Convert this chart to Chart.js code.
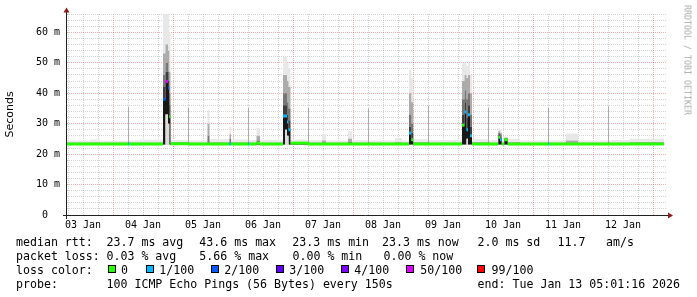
<!DOCTYPE html>
<html><head><meta charset="utf-8">
<script src="https://cdn.jsdelivr.net/npm/chart.js@4.4.1/dist/chart.umd.min.js"></script>
<style>
html,body{margin:0;padding:0;background:#fff;}
#wrap{position:relative;width:697px;height:297px;overflow:hidden;background:#fff;}
#c{position:absolute;left:0;top:0;}
.t{position:absolute;font-family:'DejaVu Sans Mono',monospace;font-size:11.6px;line-height:14px;color:#000;white-space:pre;}
.b{position:absolute;top:265px;width:6px;height:6px;border:1px solid #000;}
#wm{position:absolute;left:0;top:0;transform:translate(692.5px,5px) rotate(90deg);transform-origin:0 0;font-family:'DejaVu Sans Mono',monospace;font-size:8.3px;line-height:10px;color:#aaa;white-space:nowrap;}
</style></head>
<body>
<div id="wrap">
<canvas id="c" width="697" height="297"></canvas>
<div class="t" style="left:16px;top:235px">median rtt:</div>
<div class="t" style="left:106.5px;top:235px">23.7 ms avg</div>
<div class="t" style="left:199.3px;top:235px">43.6 ms max</div>
<div class="t" style="left:292.3px;top:235px">23.3 ms min</div>
<div class="t" style="left:382px;top:235px">23.3 ms now</div>
<div class="t" style="left:477.5px;top:235px">2.0 ms sd</div>
<div class="t" style="left:557.5px;top:235px">11.7</div>
<div class="t" style="left:606px;top:235px">am/s</div>
<div class="t" style="left:16px;top:249px">packet loss:</div>
<div class="t" style="left:106.5px;top:249px">0.03 % avg</div>
<div class="t" style="left:199.3px;top:249px">5.66 % max</div>
<div class="t" style="left:292.5px;top:249px">0.00 % min</div>
<div class="t" style="left:383.5px;top:249px">0.00 % now</div>
<div class="t" style="left:16px;top:263px">loss color:</div>
<div class="b" style="left:108px;background:#26ff00"></div><div class="t" style="left:121px;top:263px">0</div>
<div class="b" style="left:146px;background:#00b8ff"></div><div class="t" style="left:159.3px;top:263px">1/100</div>
<div class="b" style="left:211px;background:#0059ff"></div><div class="t" style="left:224.3px;top:263px">2/100</div>
<div class="b" style="left:276px;background:#5e00ff"></div><div class="t" style="left:289.3px;top:263px">3/100</div>
<div class="b" style="left:341px;background:#7e00ff"></div><div class="t" style="left:354.3px;top:263px">4/100</div>
<div class="b" style="left:406px;background:#dd00ff"></div><div class="t" style="left:420.3px;top:263px">50/100</div>
<div class="b" style="left:477px;background:#ff0000"></div><div class="t" style="left:491.6px;top:263px">99/100</div>
<div class="t" style="left:16px;top:277px">probe:</div>
<div class="t" style="left:106.5px;top:277px">100 ICMP Echo Pings (56 Bytes) every 150s</div>
<div class="t" style="left:477.6px;top:277px">end: Tue Jan 13 05:01:16 2026</div>
<div id="wm">RRDTOOL / TOBI OETIKER</div>
</div>
<script>
// hours since 03 Jan 00:00
const hours = [5.6, 14.8, 18.8, 30.0, 30.4, 34.8, 44.0, 45.0, 46.0, 46.5, 47.0, 54.0, 54.4, 61.8, 62.6, 70.6, 71.2, 78.0, 78.4, 81.4, 82.8, 92.0, 92.8, 93.6, 94.2, 95.0, 102.0, 102.4, 107.6, 109.2, 118.0, 119.6, 126.0, 126.4, 136.8, 139.6, 142.4, 143.3, 144.1, 150.0, 150.4, 163.6, 164.6, 165.4, 166.0, 166.8, 167.6, 174.0, 174.4, 178.1, 178.8, 179.5, 180.5, 181.9, 186.8, 198.0, 198.4, 205.2, 210.0, 222.0, 222.4, 230.8, 244.4];
const smokeMin = [23.0, 23.0, 23.0, 23.0, 23.0, 23.0, 23.0, 23.0, 23.0, 23.0, 23.0, 23.0, 23.0, 23.0, 23.0, 23.0, 23.0, 23.0, 23.0, 23.0, 23.0, 23.0, 23.0, 23.0, 23.0, 23.0, 23.0, 23.0, 23.0, 23.0, 23.0, 23.0, 23.0, 23.0, 23.0, 23.0, 23.0, 23.0, 23.0, 23.0, 23.0, 23.0, 23.0, 23.0, 23.0, 23.0, 23.0, 23.0, 23.0, 23.0, 23.0, 23.0, 23.0, 23.0, 23.0, 23.0, 23.0, 23.0, 23.0, 23.0, 23.0, 23.0, 23.0];
const smokeLow = [23.1, 23.1, 23.1, 23.1, 23.1, 23.1, 23.1, 33.0, 30.0, 23.1, 23.1, 23.1, 23.1, 23.1, 23.1, 23.1, 23.1, 23.1, 23.1, 23.1, 23.1, 23.1, 28.0, 26.0, 23.1, 23.1, 23.1, 23.1, 23.1, 23.1, 23.1, 23.1, 23.1, 23.1, 23.1, 23.1, 23.1, 23.1, 23.1, 23.1, 23.1, 23.1, 23.1, 25.0, 23.1, 23.1, 23.1, 23.1, 23.1, 23.1, 23.1, 23.1, 23.1, 23.1, 23.1, 23.1, 23.1, 23.1, 23.1, 23.1, 23.1, 23.1, 23.1];
const medianRtt = [23.3, 23.3, 23.3, 23.3, 23.3, 23.3, 38.0, 43.8, 41.7, 32.3, 23.4, 23.3, 23.3, 23.3, 23.3, 23.3, 23.3, 23.3, 23.3, 23.6, 23.3, 32.5, 32.5, 30.5, 28.0, 23.6, 23.3, 23.3, 23.3, 23.3, 23.3, 23.3, 23.3, 23.3, 23.3, 23.3, 26.9, 24.7, 23.3, 23.3, 23.3, 29.5, 33.8, 28.0, 32.9, 26.0, 23.3, 23.3, 23.3, 25.5, 24.7, 23.3, 24.7, 23.3, 23.3, 23.3, 23.3, 23.3, 23.3, 23.3, 23.3, 23.3, 23.3];
const smokeP60 = [23.5, 23.5, 23.5, 23.5, 23.5, 23.5, 42, 47, 44, 36, 23.6, 23.5, 23.5, 23.6, 23.5, 23.6, 23.5, 23.5, 23.5, 23.8, 23.5, 36, 36, 33, 31, 23.8, 23.5, 23.5, 23.5, 23.5, 23.5, 23.5, 23.5, 23.5, 23.5, 23.5, 29, 27, 23.5, 23.5, 23.5, 33, 37, 32, 36, 29, 23.5, 23.5, 23.5, 26.5, 25.5, 23.5, 25.0, 23.5, 23.5, 23.5, 23.5, 23.5, 23.5, 23.5, 23.5, 23.5, 23.5];
const smokeP75 = [23.65, 23.65, 23.65, 24.0, 23.65, 23.65, 46, 50, 47, 40, 23.8, 24.0, 23.65, 26.0, 23.7, 25.0, 23.65, 24.0, 23.65, 24.5, 23.65, 40, 40, 37, 35, 24.0, 24.0, 23.65, 23.8, 23.65, 24.0, 23.65, 24.0, 23.65, 23.7, 23.65, 33, 30, 23.8, 24.0, 23.65, 38, 41, 38, 40, 33, 23.8, 24.0, 23.65, 27.0, 26.5, 23.65, 25.3, 23.8, 23.65, 24.0, 23.65, 23.8, 23.65, 24.0, 23.65, 23.7, 23.65];
const smokeP90 = [23.8, 23.9, 23.8, 35.5, 23.8, 23.8, 53, 56, 54, 47, 23.9, 35.2, 23.8, 30.0, 23.9, 26.5, 23.9, 35.2, 23.8, 26.0, 23.8, 46, 46, 44, 42, 23.9, 35.2, 23.8, 24.5, 23.8, 25.0, 23.8, 35.0, 23.8, 24.0, 23.8, 40, 37, 23.9, 35.7, 23.8, 44, 46, 45, 46, 40, 23.9, 35.2, 23.8, 27.5, 27.0, 23.8, 25.4, 23.9, 23.8, 35.2, 23.8, 24.5, 23.8, 35.7, 23.8, 24.0, 23.8];
const smokeMax = [24.5, 24.8, 24.4, 36.6, 24.5, 24.7, 66, 66, 66, 60, 24.6, 36.2, 24.5, 34.5, 24.9, 29.0, 24.8, 36.2, 24.6, 28.6, 24.7, 52, 52, 50, 48, 24.8, 36.2, 24.6, 26.5, 24.5, 27.5, 24.6, 36.0, 24.5, 25.3, 24.5, 47.7, 45, 24.9, 36.7, 24.6, 50, 50, 49, 50, 46, 24.9, 36.2, 24.6, 28.5, 28.0, 24.5, 25.8, 25.0, 24.5, 36.2, 24.5, 26.8, 24.5, 36.7, 24.6, 25.0, 24.5];
const lossPct = [0, 0, 0, 1, 0, 0, 2, 6, 2, 0, 0, 0, 0, 0, 0, 1, 0, 1, 0, 0, 0, 1, 1, 1, 1, 0, 0, 0, 0, 0, 0, 0, 0, 0, 0, 0, 1, 0, 0, 0, 0, 0, 1, 1, 1, 1, 0, 0, 0, 0, 1, 0, 0, 0, 0, 1, 0, 0, 0, 0, 0, 0, 0];
const dayLabels = ['03 Jan', '04 Jan', '05 Jan', '06 Jan', '07 Jan', '08 Jan', '09 Jan', '10 Jan', '11 Jan', '12 Jan'];

function lossColor(p) {
  if (p <= 0) return '#26ff00';
  if (p <= 1) return '#00b8ff';
  if (p <= 2) return '#0059ff';
  if (p <= 3) return '#5e00ff';
  if (p <= 4) return '#7e00ff';
  if (p <= 50) return '#dd00ff';
  return '#ff0000';
}
const pts = arr => hours.map((h, i) => ({x: h, y: arr[i]}));
const medPts = [];
for (let i = 0; i < hours.length - 1; i++) {
  medPts.push({x: hours[i], y: medianRtt[i]});
  medPts.push({x: hours[i + 1], y: medianRtt[i]});
}
const smoke = (label, arr, color, fill) => ({
  label, data: pts(arr), stepped: true, fill: fill, backgroundColor: color,
  borderColor: 'rgba(0,0,0,0)', borderWidth: 0, pointRadius: 0, order: 5
});
const MINOR = 'rgba(150,150,150,0.42)';
const MAJOR = 'rgba(235,90,90,0.5)';

const axisDeco = {
  id: 'axisDeco',
  afterDraw(chart) {
    const {ctx, chartArea: a} = chart;
    ctx.save();
    ctx.strokeStyle = '#222';
    ctx.lineWidth = 1;
    ctx.beginPath();
    ctx.moveTo(a.left - 0.5, a.bottom + 4);
    ctx.lineTo(a.left - 0.5, a.top - 2);
    ctx.moveTo(a.left - 4, a.bottom + 0.5);
    ctx.lineTo(a.right + 1, a.bottom + 0.5);
    ctx.stroke();
    ctx.fillStyle = '#8b1a1a';
    ctx.beginPath();
    ctx.moveTo(a.left - 3.5, a.top - 1.5);
    ctx.lineTo(a.left + 2.5, a.top - 1.5);
    ctx.lineTo(a.left - 0.5, a.top - 6.5);
    ctx.closePath();
    ctx.fill();
    ctx.beginPath();
    ctx.moveTo(a.right + 1, a.bottom - 2.5);
    ctx.lineTo(a.right + 1, a.bottom + 3.5);
    ctx.lineTo(a.right + 6, a.bottom + 0.5);
    ctx.closePath();
    ctx.fill();
    ctx.restore();
  }
};

new Chart(document.getElementById('c'), {
  type: 'line',
  data: {
    datasets: [
      smoke('min', smokeMin, 'rgba(0,0,0,0)', false),
      smoke('low', smokeLow, '#dcdcdc', '-1'),
      smoke('med', medianRtt, '#181818', '-1'),
      smoke('p60', smokeP60, '#3e3e3e', '-1'),
      smoke('p75', smokeP75, '#767676', '-1'),
      smoke('p90', smokeP90, '#acacac', '-1'),
      smoke('max', smokeMax, '#e8e8e8', '-1'),
      {
        label: 'median rtt', data: medPts, fill: false, borderWidth: 3, pointRadius: 0,
        borderColor: '#26ff00', borderCapStyle: 'butt', borderJoinStyle: 'miter', order: -1,
        segment: {
          borderColor: c => Math.abs(c.p0.x - c.p1.x) < 0.01 ? 'rgba(0,0,0,0)' : lossColor(lossPct[Math.floor(c.p0DataIndex / 2)])
        }
      }
    ]
  },
  options: {
    responsive: false, animation: false, devicePixelRatio: 1,
    layout: {padding: {left: 0, top: 14, right: 30, bottom: 0}},
    plugins: {legend: {display: false}, tooltip: {enabled: false}},
    elements: {line: {tension: 0}, point: {radius: 0}},
    scales: {
      x: {
        type: 'linear', min: 5.6, max: 245.6,
        afterBuildTicks: s => { const t = []; for (let v = 6; v <= 240; v += 6) t.push({value: v}); s.ticks = t; },
        afterFit: s => { s.height = 82; s.paddingLeft = 0; s.paddingRight = 0; },
        ticks: {
          autoSkip: false, maxRotation: 0, minRotation: 0, padding: 4, color: '#000',
          font: {family: 'DejaVu Sans Mono', size: 10},
          callback: v => { const d = Math.round(v); return d % 24 === 12 ? (dayLabels[(d - 12) / 24] || '') : ''; }
        },
        grid: {drawTicks: false, lineWidth: 1, color: c => (c.tick && Math.round(c.tick.value) % 24 === 0) ? MAJOR : MINOR},
        border: {display: false, dash: [1, 1]}
      },
      y: {
        min: 0, max: 66,
        afterFit: s => { s.width = 67; s.paddingTop = 0; s.paddingBottom = 0; },
        ticks: {
          stepSize: 2, autoSkip: false, padding: 7, color: '#000',
          font: {family: 'DejaVu Sans Mono', size: 10},
          callback: v => v % 10 === 0 ? (v === 0 ? '0  ' : v + ' m') : ''
        },
        title: {display: true, text: 'Seconds', color: '#000', font: {family: 'DejaVu Sans', size: 11}, padding: {top: 4, bottom: 0}},
        grid: {drawTicks: false, lineWidth: 1, color: c => (c.tick && c.tick.value % 10 === 0) ? MAJOR : MINOR},
        border: {display: false, dash: [1, 1]}
      }
    }
  },
  plugins: [axisDeco]
});
</script>
</body></html>
